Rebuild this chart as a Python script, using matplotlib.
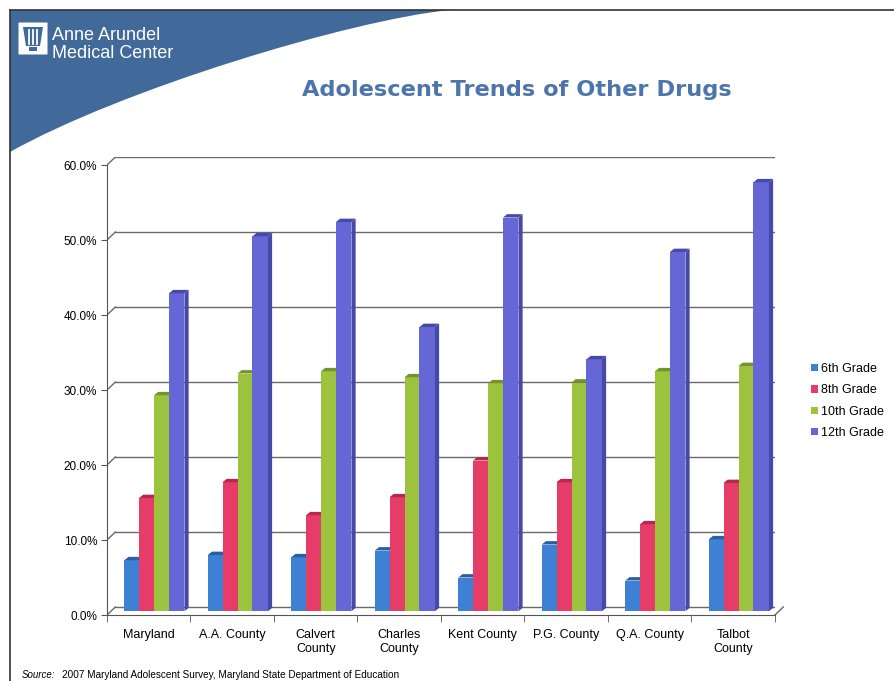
import numpy as np
import matplotlib
matplotlib.use("Agg")
import matplotlib.pyplot as plt
import matplotlib.patches as mpatches
from matplotlib.path import Path
from matplotlib.patches import PathPatch, Polygon
from matplotlib.ticker import FuncFormatter

plt.rcParams["font.family"] = ["Liberation Sans", "DejaVu Sans"]

categories = ["Maryland", "A.A. County", "Calvert\nCounty", "Charles\nCounty",
              "Kent County", "P.G. County", "Q.A. County", "Talbot\nCounty"]
grades = ["6th Grade", "8th Grade", "10th Grade", "12th Grade"]
grade6 = [6.8, 7.5, 7.2, 8.1, 4.5, 8.9, 4.1, 9.6]
grade8 = [15.1, 17.2, 12.8, 15.2, 20.1, 17.2, 11.6, 17.1]
grade10 = [28.8, 31.7, 32.0, 31.2, 30.4, 30.5, 32.0, 32.7]
grade12 = [42.4, 50.0, 51.9, 37.9, 52.5, 33.6, 47.9, 57.2]
yticks = [0, 10, 20, 30, 40, 50, 60]

series = [grade6, grade8, grade10, grade12]
face_colors = ["#3d80d4", "#e63c68", "#9cc23e", "#6567d6"]
side_colors = ["#2a5fa6", "#b42a4e", "#74932a", "#4749a8"]
offsets = [-0.2, -0.024, 0.156, 0.335]
BAR_W = 0.185
DX, DY = 0.05, 0.45      # depth of the fake 3d faces
BACK = 1.07              # back wall lift in data units
FLOOR = 0.5              # bars stand halfway into the floor
GRID = "#6a6a6a"

W, H = 895, 681
fig = plt.figure(figsize=(W / 100, H / 100), dpi=100)
fig.patch.set_facecolor("white")

# page decoration drawn in pixel space
deco = fig.add_axes([0, 0, 1, 1], zorder=0)
deco.set_xlim(0, W)
deco.set_ylim(H, 0)
deco.axis("off")

verts = [(10, 10), (450, 10), (350, 20), (120, 90), (10, 152), (10, 10)]
codes = [Path.MOVETO, Path.LINETO, Path.CURVE4, Path.CURVE4, Path.CURVE4, Path.CLOSEPOLY]
deco.add_patch(PathPatch(Path(verts, codes), facecolor="#41699a", edgecolor="none"))
deco.plot([10, W], [10, 10], color="#333333", lw=1.2)
deco.plot([10, 10], [10, H], color="#333333", lw=1.2)

# lamp logo
deco.add_patch(mpatches.FancyBboxPatch((19, 23), 28, 31, boxstyle="round,pad=0.5",
                                       facecolor="white", edgecolor="none"))
deco.add_patch(Polygon([(23, 27), (43, 27), (40, 46), (26, 46)], closed=True,
                       facecolor="#41699a", edgecolor="none"))
for lx in (29, 33, 37):
    deco.plot([lx, lx], [30, 44], color="white", lw=1.3)
deco.add_patch(mpatches.Rectangle((29, 47), 8, 4, facecolor="#41699a", edgecolor="none"))

deco.text(52, 40, "Anne Arundel", color="white", fontsize=13, va="baseline")
deco.text(52, 58, "Medical Center", color="white", fontsize=13, va="baseline")

fig.text(517 / W, 1 - 90 / H, "Adolescent Trends of Other Drugs",
         family="DejaVu Sans", fontweight="bold", fontsize=16.2,
         color="#4d75ad", ha="center", va="center")

# chart
ax = fig.add_axes([107 / W, 66 / H, 668 / W, 458 / H], zorder=1)
ax.set_xlim(-0.5, 7.5)
ax.set_ylim(0, 61.07)
ax.patch.set_alpha(0)
for s in ["top", "right"]:
    ax.spines[s].set_visible(False)
ax.spines["left"].set_bounds(0, 60)
ax.spines["left"].set_color("#555555")
ax.spines["bottom"].set_color("#555555")

x0 = -0.5 + DX * 2
for v in yticks:
    ax.plot([x0, 7.5], [v + BACK, v + BACK], color=GRID, lw=1.0, zorder=1)
    ax.plot([-0.5, x0], [v, v + BACK], color=GRID, lw=1.0, zorder=1)
ax.plot([7.5, 7.5 + DX * 2], [0, BACK], color=GRID, lw=1.0, zorder=1, clip_on=False)

ax.set_yticks(yticks)
ax.yaxis.set_major_formatter(FuncFormatter(lambda v, p: f"{v:.1f}%"))
ax.tick_params(axis="y", length=4, labelsize=8.5, pad=3, color="#555555")

ax.set_xticks(np.arange(len(categories)))
ax.set_xticklabels(categories, fontsize=9, linespacing=1.25)
ax.tick_params(axis="x", length=0, pad=10)
ax.set_xticks(np.arange(-0.5, len(categories)), minor=True)
ax.tick_params(axis="x", which="minor", length=5, color="#555555")

x = np.arange(len(categories))
for i, vals in enumerate(series):
    xs = x + offsets[i]
    bars = ax.bar(xs, vals, width=BAR_W, bottom=FLOOR, color=face_colors[i],
                  label=grades[i], zorder=3 + i * 2, linewidth=0)
    for rect in bars:
        left = rect.get_x()
        right = left + rect.get_width()
        base = rect.get_y()
        top = base + rect.get_height()
        side = Polygon([(right, base), (right + DX, base + DY), (right + DX, top + DY), (right, top)],
                       closed=True, facecolor=side_colors[i], edgecolor="none",
                       zorder=3 + i * 2)
        cap = Polygon([(left, top), (left + DX, top + DY), (right + DX, top + DY), (right, top)],
                      closed=True, facecolor=side_colors[i], edgecolor="none",
                      zorder=4 + i * 2)
        ax.add_patch(side)
        ax.add_patch(cap)

ax.legend(loc="center left", bbox_to_anchor=(805 / W, 1 - 401 / H),
          bbox_transform=fig.transFigure, frameon=False, fontsize=9,
          handlelength=0.55, handleheight=0.55, handletextpad=0.25,
          labelspacing=0.75, borderpad=0)

fig.text(22 / W, 1 - 675 / H, "Source:", fontsize=7, style="italic", va="center")
fig.text(62 / W, 1 - 675 / H,
         "2007 Maryland Adolescent Survey, Maryland State Department of Education",
         fontsize=7.2, va="center")

fig.savefig("out.png", dpi=100)
